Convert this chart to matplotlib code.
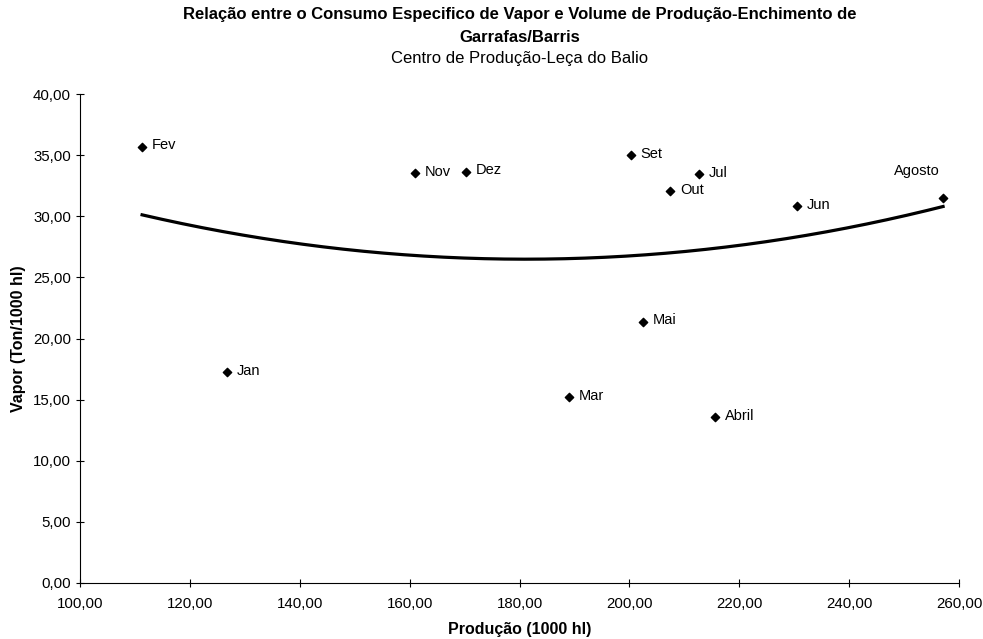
import numpy as np
import matplotlib.pyplot as plt
from matplotlib.ticker import FuncFormatter, MultipleLocator

plt.rcParams['font.family'] = ['Liberation Sans', 'DejaVu Sans']

meses = ['Jan', 'Fev', 'Mar', 'Abril', 'Mai', 'Jun', 'Jul', 'Agosto', 'Set', 'Out', 'Nov', 'Dez']
producao = [126.7, 111.3, 189.0, 215.6, 202.5, 230.6, 212.7, 257.1, 200.3, 207.4, 160.9, 170.3]
vapor = [17.26, 35.71, 15.18, 13.55, 21.38, 30.85, 33.45, 31.48, 35.03, 32.08, 33.53, 33.66]

fig = plt.figure(figsize=(9.83, 6.39), dpi=100)
ax = fig.add_axes([0.0814, 0.0881, 0.8942, 0.7643])

# linha de tendencia polinomial (ordem 2)
coef = np.polyfit(producao, vapor, 2)
xs = np.linspace(min(producao), max(producao), 200)
ax.plot(xs, np.polyval(coef, xs), color='black', lw=2.3, zorder=2)

ax.scatter(producao, vapor, marker='D', s=18, color='black', zorder=3)

for m, x, y in zip(meses, producao, vapor):
    if m == 'Agosto':
        ax.annotate(m, (x, y), xytext=(-19, 20), textcoords='offset points',
                    ha='center', va='center', fontsize=10.5)
    else:
        ax.annotate(m, (x, y), xytext=(7, 1), textcoords='offset points',
                    ha='left', va='center', fontsize=10.5)

ax.set_xlim(100, 260)
ax.set_ylim(0, 40)
ax.xaxis.set_major_locator(MultipleLocator(20))
ax.yaxis.set_major_locator(MultipleLocator(5))
fmt = FuncFormatter(lambda v, p: f'{v:.2f}'.replace('.', ','))
ax.xaxis.set_major_formatter(fmt)
ax.yaxis.set_major_formatter(fmt)
ax.tick_params(direction='inout', length=6, width=0.8, labelsize=10.8)
ax.tick_params(axis='x', pad=7)
ax.spines['top'].set_visible(False)
ax.spines['right'].set_visible(False)
ax.spines['left'].set_linewidth(0.8)
ax.spines['bottom'].set_linewidth(0.8)

ax.set_xlabel('Produção (1000 hl)', fontsize=11.5, fontweight='bold', labelpad=8)
ax.set_ylabel('Vapor (Ton/1000 hl)', fontsize=11.5, fontweight='bold', labelpad=5)

cx = 0.0814 + 0.8942 / 2
fig.text(cx, 1 - 14 / 639, 'Relação entre o Consumo Especifico de Vapor e Volume de Produção-Enchimento de',
         ha='center', va='center', fontsize=12, fontweight='bold')
fig.text(cx, 1 - 37 / 639, 'Garrafas/Barris', ha='center', va='center', fontsize=12, fontweight='bold')
fig.text(cx, 1 - 59 / 639, 'Centro de Produção-Leça do Balio', ha='center', va='center', fontsize=12)

fig.savefig('out.png', dpi=100)
